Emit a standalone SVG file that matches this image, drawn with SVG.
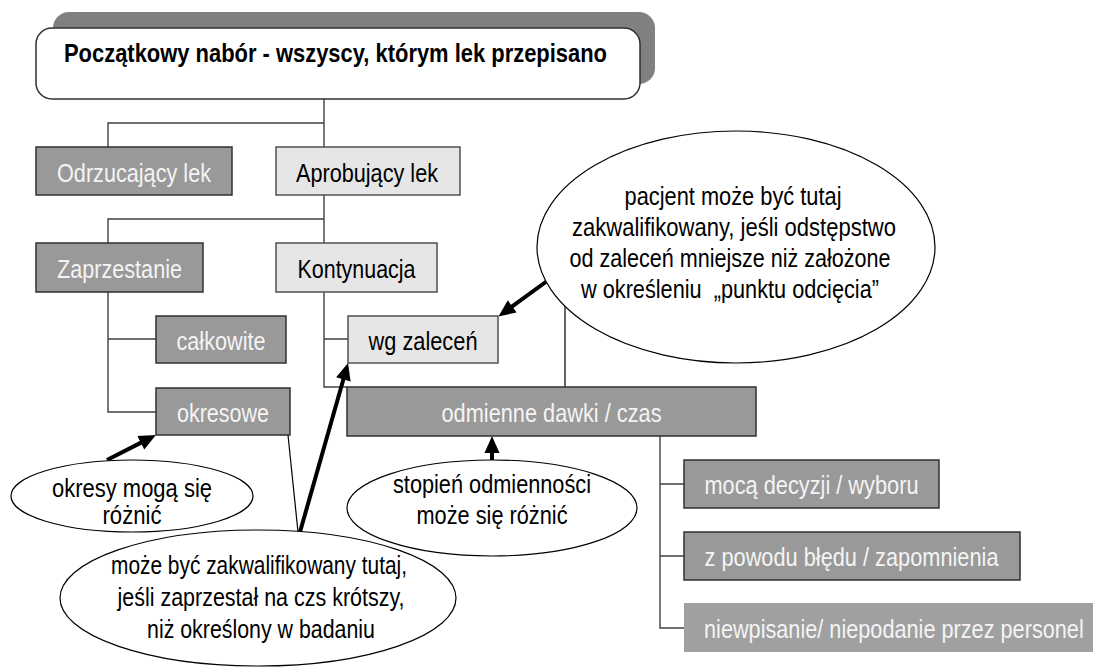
<svg xmlns="http://www.w3.org/2000/svg" width="1095" height="668" viewBox="0 0 1095 668">
<style>
text{font-family:"Liberation Sans",Arial,sans-serif;font-size:25px;text-anchor:middle}
.dk{fill:#999999;stroke:#303030;stroke-width:1.5}
.lt{fill:#e6e6e6;stroke:#505050;stroke-width:1.5}
.nb{fill:#a0a0a0;stroke:none}
.wt{fill:#f4f4f4}
.bk{fill:#000000}
.ln{fill:none;stroke:#404040;stroke-width:1.4}
.th{fill:none;stroke:#000000;stroke-width:1.2}
.ar{fill:none;stroke:#000000;stroke-width:4;marker-end:url(#ah)}
.el{fill:#ffffff;stroke:#000000;stroke-width:1.2}
</style>
<defs>
<marker id="ah" markerUnits="userSpaceOnUse" markerWidth="18" markerHeight="16" refX="3" refY="7.5" orient="auto" overflow="visible">
<path d="M0,0 L17,7.5 L0,15 Z" fill="#000000"/>
</marker>
</defs>
<rect width="1095" height="668" fill="#ffffff"/>

<g id="connectors">
<path class="ln" d="M324,99 V147 M108,147 V123 H324"/>
<path class="ln" d="M324,195 V243 M108,243 V219 H324"/>
<path class="ln" d="M108,292 V412 H156 M108,339 H156"/>
<path class="ln" d="M324,292 V387 H347 M324,339 H348"/>
<path class="ln" d="M660,436 V628 H684 M660,484 H684 M660,556 H684"/>
<path class="th" d="M565,268 V387"/>
<path class="th" d="M288,435 L298,532"/>
<path class="ar" d="M565,268 L509.8,308.2"/>
<path class="ar" d="M492,460 L492,450"/>
<path class="ar" d="M107,460 L143.5,441.4"/>
<path class="ar" d="M300,532 L344.2,376.5"/>
</g>

<g id="n-root">
<rect x="53" y="12" width="602" height="72" rx="16" fill="#808080"/>
<rect x="36" y="28" width="604" height="71" rx="16" fill="#ffffff" stroke="#303030" stroke-width="1.5"/>
<text x="335.5" y="62" class="bk" font-weight="bold" font-size="27" textLength="543" lengthAdjust="spacingAndGlyphs">Początkowy nabór - wszyscy, którym lek przepisano</text>
</g>

<g id="n-odrzucajacy">
<rect x="36" y="147" width="196" height="48" class="dk"/>
<text x="134" y="182" class="wt" textLength="154" lengthAdjust="spacingAndGlyphs">Odrzucający lek</text>
</g>

<g id="n-aprobujacy">
<rect x="276" y="147" width="184" height="48" class="lt"/>
<text x="367" y="182" class="bk" textLength="142" lengthAdjust="spacingAndGlyphs">Aprobujący lek</text>
</g>

<g id="n-zaprzestanie">
<rect x="36" y="243" width="167" height="49" class="dk"/>
<text x="119.5" y="278" class="wt" textLength="125" lengthAdjust="spacingAndGlyphs">Zaprzestanie</text>
</g>

<g id="n-kontynuacja">
<rect x="276" y="243" width="161" height="49" class="lt"/>
<text x="356.5" y="278" class="bk" textLength="118" lengthAdjust="spacingAndGlyphs">Kontynuacja</text>
</g>

<g id="n-calkowite">
<rect x="156" y="316" width="130" height="47" class="dk"/>
<text x="221" y="350" class="wt" textLength="89" lengthAdjust="spacingAndGlyphs">całkowite</text>
</g>

<g id="n-okresowe">
<rect x="156" y="388" width="134" height="47" class="dk"/>
<text x="223" y="422" class="wt" textLength="92" lengthAdjust="spacingAndGlyphs">okresowe</text>
</g>

<g id="n-wg-zalecen">
<rect x="348" y="316" width="150" height="47" class="lt"/>
<text x="423" y="350" class="bk" textLength="109" lengthAdjust="spacingAndGlyphs">wg zaleceń</text>
</g>

<g id="n-odmienne">
<rect x="347" y="387" width="409" height="49" class="dk"/>
<text x="551.5" y="422" class="wt" textLength="220" lengthAdjust="spacingAndGlyphs">odmienne dawki / czas</text>
</g>

<g id="n-moca">
<rect x="684" y="460" width="255" height="48" class="dk"/>
<text x="811.5" y="494" class="wt" textLength="214" lengthAdjust="spacingAndGlyphs">mocą decyzji / wyboru</text>
</g>

<g id="n-z-powodu">
<rect x="684" y="532" width="336" height="48" class="dk"/>
<text x="851.5" y="566" class="wt" textLength="294" lengthAdjust="spacingAndGlyphs">z powodu błędu / zapomnienia</text>
</g>

<g id="n-niewpisanie">
<rect x="684" y="603" width="409" height="49" class="nb"/>
<text transform="translate(704,638) scale(0.868,1)" x="0" y="0" class="wt" style="text-anchor:start">niewpisanie/ niepodanie przez personel</text>
</g>

<g id="n-pacjent">
<ellipse cx="736" cy="247" rx="199" ry="116" class="el"/>
<text x="733" y="205" class="bk" textLength="217" lengthAdjust="spacingAndGlyphs">pacjent może być tutaj</text>
<text x="734" y="236" class="bk" textLength="324" lengthAdjust="spacingAndGlyphs">zakwalifikowany, jeśli odstępstwo</text>
<text x="730" y="267" class="bk" textLength="321" lengthAdjust="spacingAndGlyphs">od zaleceń mniejsze niż założone</text>
<text x="730" y="298" class="bk" textLength="298" lengthAdjust="spacingAndGlyphs">w określeniu&#160; „punktu odcięcia”</text>
</g>

<g id="n-stopien">
<ellipse cx="492" cy="508" rx="145" ry="48" class="el"/>
<text x="492" y="493" class="bk" textLength="198" lengthAdjust="spacingAndGlyphs">stopień odmienności</text>
<text x="492" y="524" class="bk" textLength="151" lengthAdjust="spacingAndGlyphs">może się różnić</text>
</g>

<g id="n-okresy">
<ellipse cx="132" cy="496" rx="121" ry="36" class="el"/>
<text x="132" y="497" class="bk" textLength="160" lengthAdjust="spacingAndGlyphs">okresy mogą się</text>
<text x="132" y="524" class="bk" textLength="59" lengthAdjust="spacingAndGlyphs">różnić</text>
</g>

<g id="n-moze-byc">
<ellipse cx="258" cy="598" rx="198" ry="68" class="el"/>
<text x="259" y="574" class="bk" textLength="296" lengthAdjust="spacingAndGlyphs">może być zakwalifikowany tutaj,</text>
<text x="261" y="606" class="bk" textLength="287" lengthAdjust="spacingAndGlyphs">jeśli zaprzestał na czs krótszy,</text>
<text x="261" y="638" class="bk" textLength="228" lengthAdjust="spacingAndGlyphs">niż określony w badaniu</text>
</g>
</svg>
